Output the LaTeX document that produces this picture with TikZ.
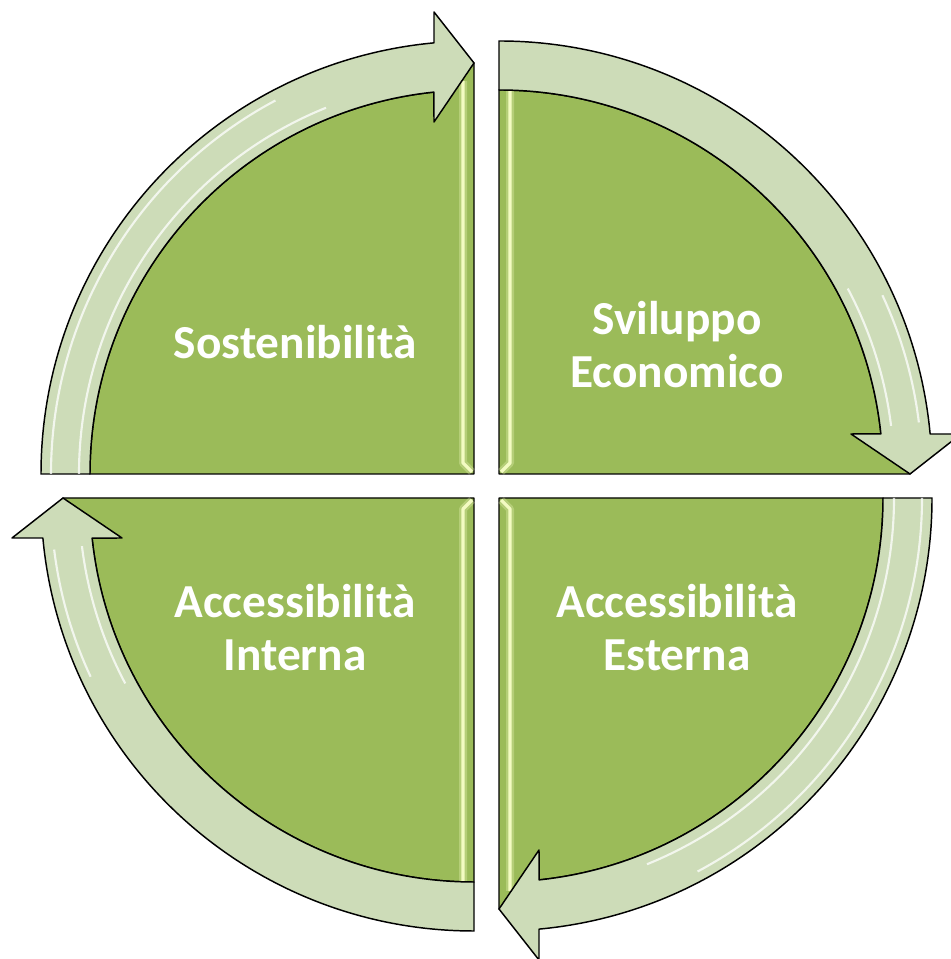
\documentclass[tikz,border=0pt]{standalone}
\usepackage{fontspec}
\setmainfont{Carlito}
\definecolor{quadgreen}{HTML}{9BBB59}
\definecolor{arrowgreen}{HTML}{CDDCB8}
\definecolor{glint}{HTML}{F3FBC2}

\begin{document}
\begin{tikzpicture}[x=0.75pt, y=0.75pt, line join=round,
    quad/.style = {fill=quadgreen, draw=black, line width=1.1pt},
    cycarrow/.style = {fill=arrowgreen, draw=black, line width=1.1pt},
    glow/.style = {draw=white, line width=1.6pt, opacity=0.75},
    strip/.style = {draw=glint, line width=2.4pt},
    halo/.style = {draw=glint, line width=6pt, opacity=0.3},
    lbl/.style = {text=white, font=\fontsize{35.5}{39.75}\selectfont\bfseries, align=center}
    ]
\useasboundingbox (0,0) rectangle (950,959);

\coordinate (tl) at (474,485);
\coordinate (tr) at (499,485);
\coordinate (br) at (499,461);
\coordinate (bl) at (474,461);

\begin{scope}[shift={(tl)}]
\draw[quad] (0,0) -- (180:384) arc[start angle=180, end angle=96, radius=384] -- (0,411) -- cycle;
\end{scope}
\begin{scope}[shift={(tr)}, rotate=-90]
\draw[quad] (0,0) -- (180:384) arc[start angle=180, end angle=96, radius=384] -- (0,411) -- cycle;
\end{scope}
\begin{scope}[shift={(br)}, rotate=-180]
\draw[quad] (0,0) -- (180:384) arc[start angle=180, end angle=96, radius=384] -- (0,411) -- cycle;
\end{scope}
\begin{scope}[shift={(bl)}, rotate=90]
\draw[quad] (0,0) -- (180:384) arc[start angle=180, end angle=96, radius=384] -- (0,411) -- cycle;
\end{scope}

\draw[halo] (463,878) -- (463,496) -- (472,487);
\draw[halo] (510,868) -- (510,496) -- (501,487);
\draw[halo] (472,459) -- (463,450) -- (463,78);
\draw[halo] (501,459) -- (510,450) -- (510,68);
\draw[strip] (463,878) -- (463,496) -- (472,487);
\draw[strip] (510,868) -- (510,496) -- (501,487);
\draw[strip] (472,459) -- (463,450) -- (463,78);
\draw[strip] (501,459) -- (510,450) -- (510,68);

\begin{scope}[shift={(tl)}]
\draw[cycarrow] (180:433) arc[start angle=180, end angle=95.3, radius=433] -- (-40,462) -- (0,411) -- (-40,352) -- (96:384) arc[start angle=96, end angle=180, radius=384] -- cycle;
\draw[glow] (180:395) arc[start angle=180, end angle=112, radius=395];
\draw[glow] (180:423) arc[start angle=180, end angle=118, radius=423];
\end{scope}
\begin{scope}[shift={(tr)}, rotate=-90]
\draw[cycarrow] (180:433) arc[start angle=180, end angle=95.3, radius=433] -- (-40,462) -- (0,411) -- (-40,352) -- (96:384) arc[start angle=96, end angle=180, radius=384] -- cycle;
\draw[glow] (97:395) arc[start angle=97, end angle=118, radius=395];
\draw[glow] (97:423) arc[start angle=97, end angle=115, radius=423];
\end{scope}
\begin{scope}[shift={(br)}, rotate=-180]
\draw[cycarrow] (180:433) arc[start angle=180, end angle=95.3, radius=433] -- (-40,462) -- (0,411) -- (-40,352) -- (96:384) arc[start angle=96, end angle=180, radius=384] -- cycle;
\draw[glow] (180:395) arc[start angle=180, end angle=112, radius=395];
\draw[glow] (180:423) arc[start angle=180, end angle=118, radius=423];
\end{scope}
\begin{scope}[shift={(bl)}, rotate=90]
\draw[cycarrow] (180:433) arc[start angle=180, end angle=95.3, radius=433] -- (-40,462) -- (0,411) -- (-40,352) -- (96:384) arc[start angle=96, end angle=180, radius=384] -- cycle;
\draw[glow] (97:395) arc[start angle=97, end angle=118, radius=395];
\draw[glow] (97:423) arc[start angle=97, end angle=115, radius=423];
\end{scope}

\node[lbl] (sost) at ([shift={(-179,132)}]tl) {Sostenibilità};
\node[lbl] (svil) at ([shift={(178,129)}]tr) {Sviluppo\\Economico};
\node[lbl] (aest) at ([shift={(178,-130)}]br) {Accessibilità\\Esterna};
\node[lbl] (aint) at ([shift={(-179,-130)}]bl) {Accessibilità\\Interna};

\end{tikzpicture}
\end{document}
